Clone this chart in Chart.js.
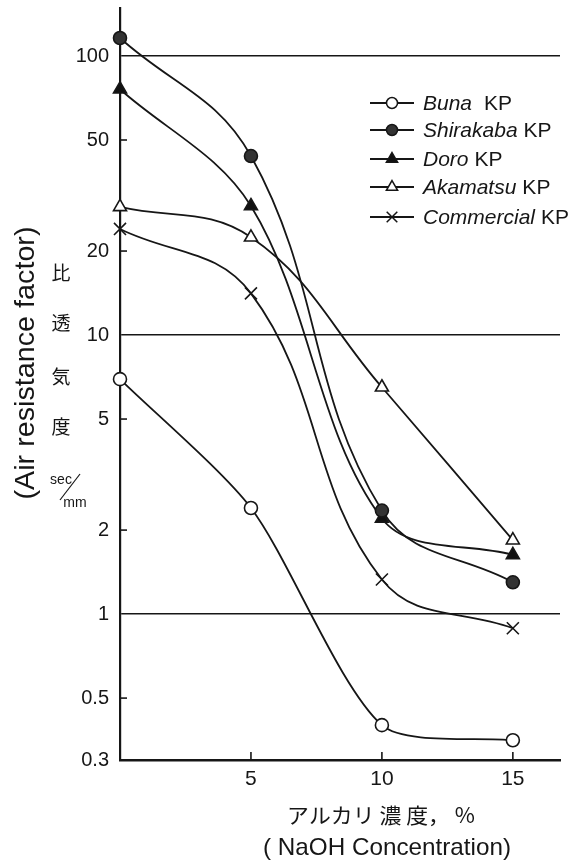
<!DOCTYPE html>
<html>
<head>
<meta charset="utf-8">
<script src="https://cdn.jsdelivr.net/npm/chart.js@4"></script>
<style>
  body { margin: 0; background: #fff; }
  #wrap { width: 571px; height: 862px; }
</style>
</head>
<body>
<div id="wrap"><canvas id="airChart" width="571" height="862"></canvas></div>
<script>
// NaOH concentration (%) on x, air resistance factor (sec/mm, log) on y
const concentration = [0, 5, 10, 15];
const buna = [6.95, 2.4, 0.40, 0.353];
const shirakaba = [116, 43.8, 2.35, 1.30];
const doro = [76, 29, 2.2, 1.63];
const akamatsu = [28.8, 22.4, 6.5, 1.84];
const commercial = [24, 14.1, 1.33, 0.89];

const seriesNames = ['Buna', 'Shirakaba', 'Doro', 'Akamatsu', 'Commercial'];
const yTickValues = [0.3, 0.5, 1, 2, 5, 10, 20, 50, 100];
const yGridValues = [1, 10, 100];
const xTickValues = [5, 10, 15];

const INK = '#161616';

function toPoints(values) {
  return values.map((v, i) => ({ x: concentration[i], y: v }));
}

const styles = [
  { pointStyle: 'circle', fill: '#fff', tension: 0.25, r: 6.5 },
  { pointStyle: 'circle', fill: '#333', tension: 0.4, r: 6.5 },
  { pointStyle: 'triangle', fill: '#111', tension: 0.35, r: 7.5 },
  { pointStyle: 'triangle', fill: '#fff', tension: 0.4, r: 7.5 },
  { pointStyle: 'crossRot', fill: '#fff', tension: 0.4, r: 8.5 }
];

const allSeries = [buna, shirakaba, doro, akamatsu, commercial];

const datasets = allSeries.map((vals, i) => ({
  label: seriesNames[i] + ' KP',
  data: toPoints(vals),
  borderColor: INK,
  borderWidth: 1.8,
  pointStyle: styles[i].pointStyle,
  pointBackgroundColor: styles[i].fill,
  pointBorderColor: INK,
  pointBorderWidth: 1.6,
  pointRadius: styles[i].r,
  tension: styles[i].tension,
  clip: false,
  fill: false
}));

// draw text stretched/squeezed to a given width
function drawFit(ctx, text, cx, cy, width, font, rot) {
  ctx.save();
  ctx.font = font;
  const w = ctx.measureText(text).width;
  ctx.translate(cx, cy);
  if (rot) ctx.rotate(rot);
  ctx.scale(width / w, 1);
  ctx.textAlign = 'center';
  ctx.textBaseline = 'middle';
  ctx.fillText(text, 0, 0);
  ctx.restore();
}

const decorations = {
  id: 'decorations',
  afterDraw(chart) {
    const ctx = chart.ctx;
    const xs = chart.scales.x, ys = chart.scales.y;
    const area = chart.chartArea;
    ctx.save();
    ctx.strokeStyle = INK;
    ctx.fillStyle = INK;

    // small inner ticks
    ctx.lineWidth = 1.6;
    yTickValues.forEach(v => {
      if (yGridValues.includes(v) || v === 0.3) return;
      const py = ys.getPixelForValue(v);
      ctx.beginPath();
      ctx.moveTo(area.left, py);
      ctx.lineTo(area.left + 7, py);
      ctx.stroke();
    });
    xTickValues.forEach(v => {
      const px = xs.getPixelForValue(v);
      ctx.beginPath();
      ctx.moveTo(px, area.bottom);
      ctx.lineTo(px, area.bottom - 8);
      ctx.stroke();
    });

    // legend
    const rows = [103, 130, 159, 187, 217];
    rows.forEach((ry, i) => {
      ctx.lineWidth = 1.8;
      ctx.beginPath();
      ctx.moveTo(370, ry);
      ctx.lineTo(414, ry);
      ctx.stroke();
      ctx.fillStyle = styles[i].fill;
      ctx.strokeStyle = INK;
      ctx.lineWidth = 1.5;
      Chart.helpers.drawPoint(ctx, { pointStyle: styles[i].pointStyle, radius: styles[i].r - 1, borderWidth: 1.5 }, 392, ry);
      ctx.fillStyle = INK;
      ctx.font = 'italic 21px "Liberation Sans"';
      ctx.textAlign = 'left';
      ctx.textBaseline = 'middle';
      const name = seriesNames[i];
      ctx.fillText(name, 423, ry + 1);
      const w = ctx.measureText(name).width;
      ctx.font = '21px "Liberation Sans"';
      ctx.fillText('KP', 423 + w + (i === 0 ? 12 : 6), ry + 1);
    });

    // y axis titles
    drawFit(ctx, '(Air resistance factor)', 26, 363, 273, '28px "Liberation Sans"', -Math.PI / 2);
    ctx.font = '19px "Noto Sans CJK JP"';
    ctx.textAlign = 'center';
    ctx.textBaseline = 'middle';
    ['比', '透', '気', '度'].forEach((c, i) => {
      ctx.fillText(c, 61, [273, 323, 377, 427][i]);
    });
    ctx.font = '14px "Liberation Sans"';
    ctx.fillText('sec', 61, 480);
    ctx.fillText('mm', 75, 503);
    ctx.lineWidth = 1.2;
    ctx.beginPath();
    ctx.moveTo(80, 474);
    ctx.lineTo(60, 500);
    ctx.stroke();

    // x axis titles
    drawFit(ctx, 'アルカリ 濃 度， %', 381, 815, 188, '21px "Noto Sans CJK JP"');
    drawFit(ctx, '( NaOH Concentration)', 387, 848, 248, '24px "Liberation Sans"');
    ctx.restore();
  }
};

new Chart(document.getElementById('airChart').getContext('2d'), {
  type: 'line',
  data: { datasets: datasets },
  options: {
    responsive: false,
    animation: false,
    layout: { autoPadding: false, padding: { top: 8, right: 11, left: 0, bottom: 0 } },
    plugins: { legend: { display: false }, tooltip: { enabled: false } },
    scales: {
      x: {
        type: 'linear',
        min: 0,
        max: 16.8,
        afterBuildTicks: scale => { scale.ticks = xTickValues.map(v => ({ value: v })); },
        afterFit: scale => { scale.height = 102; scale.paddingLeft = 0; scale.paddingRight = 0; },
        grid: { color: 'transparent', drawTicks: false },
        border: { display: true, color: INK, width: 2.5 },
        ticks: { color: INK, padding: 7, font: { family: 'Liberation Sans', size: 21 }, maxRotation: 0 }
      },
      y: {
        type: 'logarithmic',
        min: 0.3,
        max: 148.6,
        afterBuildTicks: scale => { scale.ticks = yTickValues.map(v => ({ value: v })); },
        afterFit: scale => { scale.width = 120; scale.paddingTop = 0; scale.paddingBottom = 0; },
        grid: {
          color: c => (c.tick && yGridValues.includes(c.tick.value)) ? INK : 'transparent',
          lineWidth: 1.6,
          drawTicks: false
        },
        border: { display: true, color: INK, width: 2.2 },
        ticks: {
          color: INK,
          padding: 11,
          font: { family: 'Liberation Sans', size: 20 },
          callback: v => String(v)
        }
      }
    }
  },
  plugins: [decorations]
});
</script>
</body>
</html>
